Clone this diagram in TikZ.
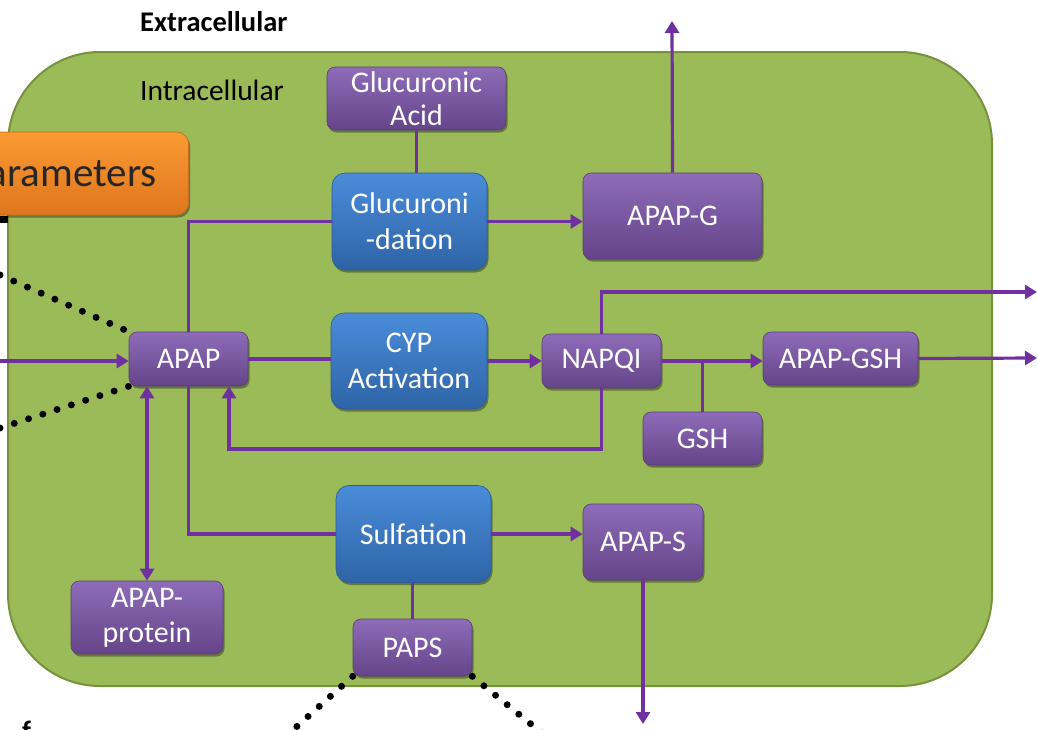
\documentclass[tikz,border=0pt]{standalone}
\usepackage{fontspec}
\setmainfont{Carlito}
\usetikzlibrary{arrows.meta,shadows,calc}

\definecolor{cellfill}{HTML}{9BBB59}
\definecolor{cellline}{HTML}{76923C}
\definecolor{flowline}{HTML}{7030A0}
\definecolor{ptop}{HTML}{8E6CB9}
\definecolor{pbot}{HTML}{654489}
\definecolor{pedge}{HTML}{5A3C7C}
\definecolor{btop}{HTML}{4A8CDA}
\definecolor{bbot}{HTML}{2E64A6}
\definecolor{bedge}{HTML}{2A5A96}
\definecolor{otop}{HTML}{FA9A32}
\definecolor{obot}{HTML}{DF761E}
\definecolor{oedge}{HTML}{C8681A}

\tikzset{
  species/.style={rounded corners=8pt, top color=ptop, bottom color=pbot,
    draw=pedge, line width=0.6pt, text=white, align=center, inner sep=0pt,
    font=\fontsize{30}{33}\selectfont,
    drop shadow={shadow xshift=1.5pt, shadow yshift=-2.5pt, opacity=0.35, fill=black}},
  process/.style={species, rounded corners=13pt, top color=btop, bottom color=bbot, draw=bedge},
  flow/.style={draw=flowline, line width=3.2pt},
  arr/.style={flow, -{Triangle[length=12pt,width=14pt]}},
  darr/.style={flow, {Triangle[length=12pt,width=14pt]}-{Triangle[length=12pt,width=14pt]}},
  dots/.style={line width=7pt, line cap=round, dash pattern=on 0pt off 15pt},
  label/.style={anchor=west, inner sep=0pt, font=\fontsize{29.5}{32}\selectfont}
}

\begin{document}
\begin{tikzpicture}[x=1pt,y=-1pt]
\useasboundingbox (0,0) rectangle (1038,729);

% cell compartment
\draw[fill=cellfill, draw=cellline, line width=2pt, rounded corners=92pt] (8,52) rectangle (992,686);

\node[label, font=\bfseries\fontsize{28.5}{31}\selectfont] (extra) at (140,22) {Extracellular};
\node[label] (intra) at (140,90) {Intracellular};

% parameter box and its neighbour, cut by the page edge
\fill[black] (0,216) rectangle (8,223);
\node[species, rounded corners=12pt, top color=otop, bottom color=obot, draw=oedge,
  anchor=east, minimum height=83pt, inner xsep=32pt, text=black!85,
  font=\fontsize{41}{45}\selectfont] (params) at (189,173.5) {Parameters};
\node[anchor=north west, inner sep=0pt, font=\bfseries\fontsize{28}{30}\selectfont] (f) at (22,721) {f};

% species and processes
\node[species, minimum width=119pt, minimum height=54pt] (apap) at (188.5,359) {APAP};
\node[species, minimum width=179pt, minimum height=63pt] (gluAcid) at (416.5,98.5) {Glucuronic\\[0pt]Acid};
\node[process, minimum width=155pt, minimum height=97pt] (gluc) at (409.5,221.5) {Glucuroni\\[3pt]-dation};
\node[species, minimum width=179pt, minimum height=86pt] (apapG) at (672.5,216) {APAP-G};
\node[process, minimum width=156pt, minimum height=96pt] (cyp) at (409,361) {CYP\\[3pt]Activation};
\node[species, minimum width=119pt, minimum height=54pt] (napqi) at (601.5,361) {NAPQI};
\node[species, minimum width=155pt, minimum height=53pt] (apapGSH) at (840.5,358.5) {APAP-GSH};
\node[species, minimum width=119pt, minimum height=53pt] (gsh) at (702.5,438.5) {GSH};
\node[process, minimum width=155pt, minimum height=97pt] (sulf) at (413.5,534) {Sulfation};
\node[species, minimum width=120pt, minimum height=76pt] (apapS) at (643,542) {APAP-S};
\node[species, minimum width=152pt, minimum height=73pt] (protein) at (147,617.5) {APAP-\\[2pt]protein};
\node[species, minimum width=119pt, minimum height=57pt] (paps) at (412.5,647.5) {PAPS};

% free ends
\coordinate (inL) at (0,361);
\coordinate (dotA) at (0,275);
\coordinate (dotB) at (0,428);
\coordinate (dotC) at (284,738);
\coordinate (dotD) at (548,738);
\coordinate (outG) at (672,21);
\coordinate (outN) at (1037,292);
\coordinate (outGSH) at (1037,358);
\coordinate (outS) at (643,724);
\coordinate (fb) at (229,449);

% dotted guides
\draw[dots] (dotA) -- (apap.north west);
\draw[dots] (dotB) -- (apap.south west);
\draw[dots] (paps.south west) -- (dotC);
\draw[dots] (paps.south east) -- (dotD);

% fluxes
\draw[arr] (inL) -- (inL -| apap.west);
\draw[flow] (apap.north) |- (gluc.west);
\draw[flow] (apap.south) |- (sulf.west);
\draw[flow] (apap.east) -- (apap.east -| cyp.west);
\draw[flow] (gluAcid.south) -- (gluAcid.south |- gluc.north);
\draw[arr] (gluc.east) -- (gluc.east -| apapG.west);
\draw[arr] (apapG.north) -- (outG);
\draw[arr] (cyp.east) -- (cyp.east -| napqi.west);
\draw[arr] (napqi.north) |- (outN);
\draw[arr] (napqi.east) -- (napqi.east -| apapGSH.west);
\draw[flow] (gsh.north) -- (gsh.north |- napqi.east);
\draw[arr] (apapGSH.east) -- (outGSH);
\draw[arr] (napqi.south) |- (fb) -- (fb |- apap.south);
\draw[darr] (apap.south -| protein.north) -- (protein.north);
\draw[arr] (sulf.east) -- (sulf.east -| apapS.west);
\draw[arr] (apapS.south) -- (outS);
\draw[flow] (paps.north) -- (paps.north |- sulf.south);
\end{tikzpicture}
\end{document}
